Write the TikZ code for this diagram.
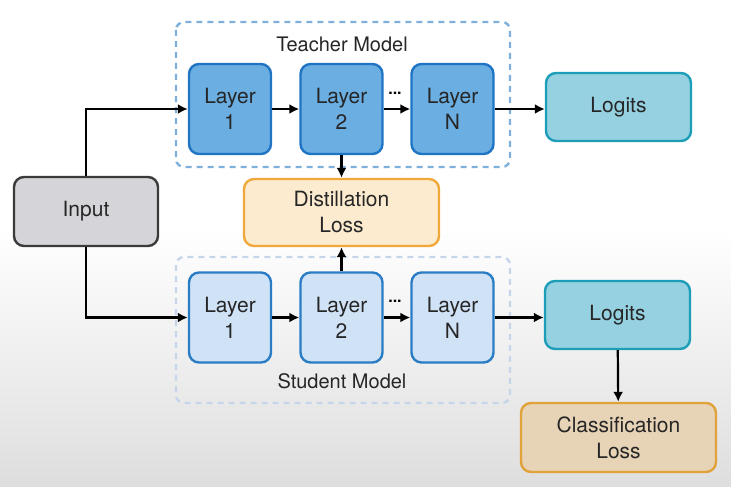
\documentclass[tikz,border=0pt]{standalone}
\usepackage{fontspec}
\setmainfont{TeX Gyre Heros}
\usepackage{tikz}
\usetikzlibrary{positioning, arrows.meta}

\definecolor{teachfill}{HTML}{6AAEE2}
\definecolor{teachline}{HTML}{1F74C4}
\definecolor{studfill}{HTML}{D0E3F6}
\definecolor{studline}{HTML}{2A7CC4}
\definecolor{logfill}{HTML}{95D1E0}
\definecolor{logline}{HTML}{1C9DB8}
\definecolor{inpfill}{HTML}{D5D5D9}
\definecolor{inpline}{HTML}{3A3A3A}
\definecolor{distfill}{HTML}{FDEBD0}
\definecolor{distline}{HTML}{F0A83A}
\definecolor{clsfill}{HTML}{E7D3B6}
\definecolor{clsline}{HTML}{E1A23A}
\definecolor{teachdash}{HTML}{7FB0DC}
\definecolor{studdash}{HTML}{C6D5EA}

\tikzset{
  box/.style={rounded corners=10pt, line width=2.4pt, align=center, inner sep=0pt,
    font=\fontsize{21}{26}\selectfont, text=black!85},
  layerbox/.style={box, minimum width=82pt, minimum height=90pt},
  teacher/.style={layerbox, fill=teachfill, draw=teachline},
  student/.style={layerbox, fill=studfill, draw=studline},
  logitbox/.style={box, minimum width=145pt, minimum height=68pt, fill=logfill, draw=logline},
  group/.style={rounded corners=8pt, line width=2.4pt, dash pattern=on 6pt off 5pt},
  flow/.style={line width=2.2pt, -{Latex[length=10pt,width=10pt]}},
  dots/.style={font=\fontsize{16}{16}\selectfont\bfseries, inner sep=0pt}
}

\begin{document}
\begin{tikzpicture}[x=1pt, y=-1pt]
  \useasboundingbox (0,0) rectangle (731,487);
  \shade[top color=white, bottom color=black!13] (0,230) rectangle (731,487);

  % model groups
  \draw[group, draw=teachdash] (176,22) rectangle (510,167);
  \draw[group, draw=studdash] (176,257) rectangle (510,403);
  \node[font=\fontsize{20}{25}\selectfont, text=black!85] (tlabel) at (342,44) {Teacher Model};
  \node[font=\fontsize{20}{25}\selectfont, text=black!85] (slabel) at (342,381) {Student Model};

  % teacher
  \node[teacher] (t1) at (230,109) {Layer\\1};
  \node[teacher] (t2) at (341.5,109) {Layer\\2};
  \node[teacher] (tn) at (452.5,109) {Layer\\N};
  \node[logitbox] (tlog) at (618.5,107) {Logits};

  % student
  \node[student] (s1) at (230,317.5) {Layer\\1};
  \node[student] (s2) at (341.5,317.5) {Layer\\2};
  \node[student] (sn) at (452.5,317.5) {Layer\\N};
  \node[logitbox] (slog) at (617.5,315) {Logits};

  \node[box, minimum width=144pt, minimum height=69pt, fill=inpfill, draw=inpline] (input) at (86,211.5) {Input};
  \node[box, minimum width=195pt, minimum height=67pt, fill=distfill, draw=distline] (dist) at (341.5,212.5) {Distillation\\Loss};
  \node[box, minimum width=195pt, minimum height=69pt, fill=clsfill, draw=clsline] (cls) at (618.5,437.5) {Classification\\Loss};

  \node[dots] (tdots) at (395,93) {...};
  \node[dots] (sdots) at (395,301) {...};

  % connectors
  \draw[flow] (input.north) |- (t1.west);
  \draw[flow] (input.south) |- (s1.west);
  \draw[flow] (t1) -- (t2);
  \draw[flow] (t2) -- (tn);
  \draw[flow] (tn.east) -- (tn.east -| tlog.west);
  \draw[flow] (s1) -- (s2);
  \draw[flow] (s2) -- (sn);
  \draw[flow] (sn.east) -- (sn.east -| slog.west);
  \draw[flow] (t2) -- (dist);
  \draw[flow] (s2) -- (dist);
  \draw[flow] (slog) -- (cls);
\end{tikzpicture}
\end{document}
